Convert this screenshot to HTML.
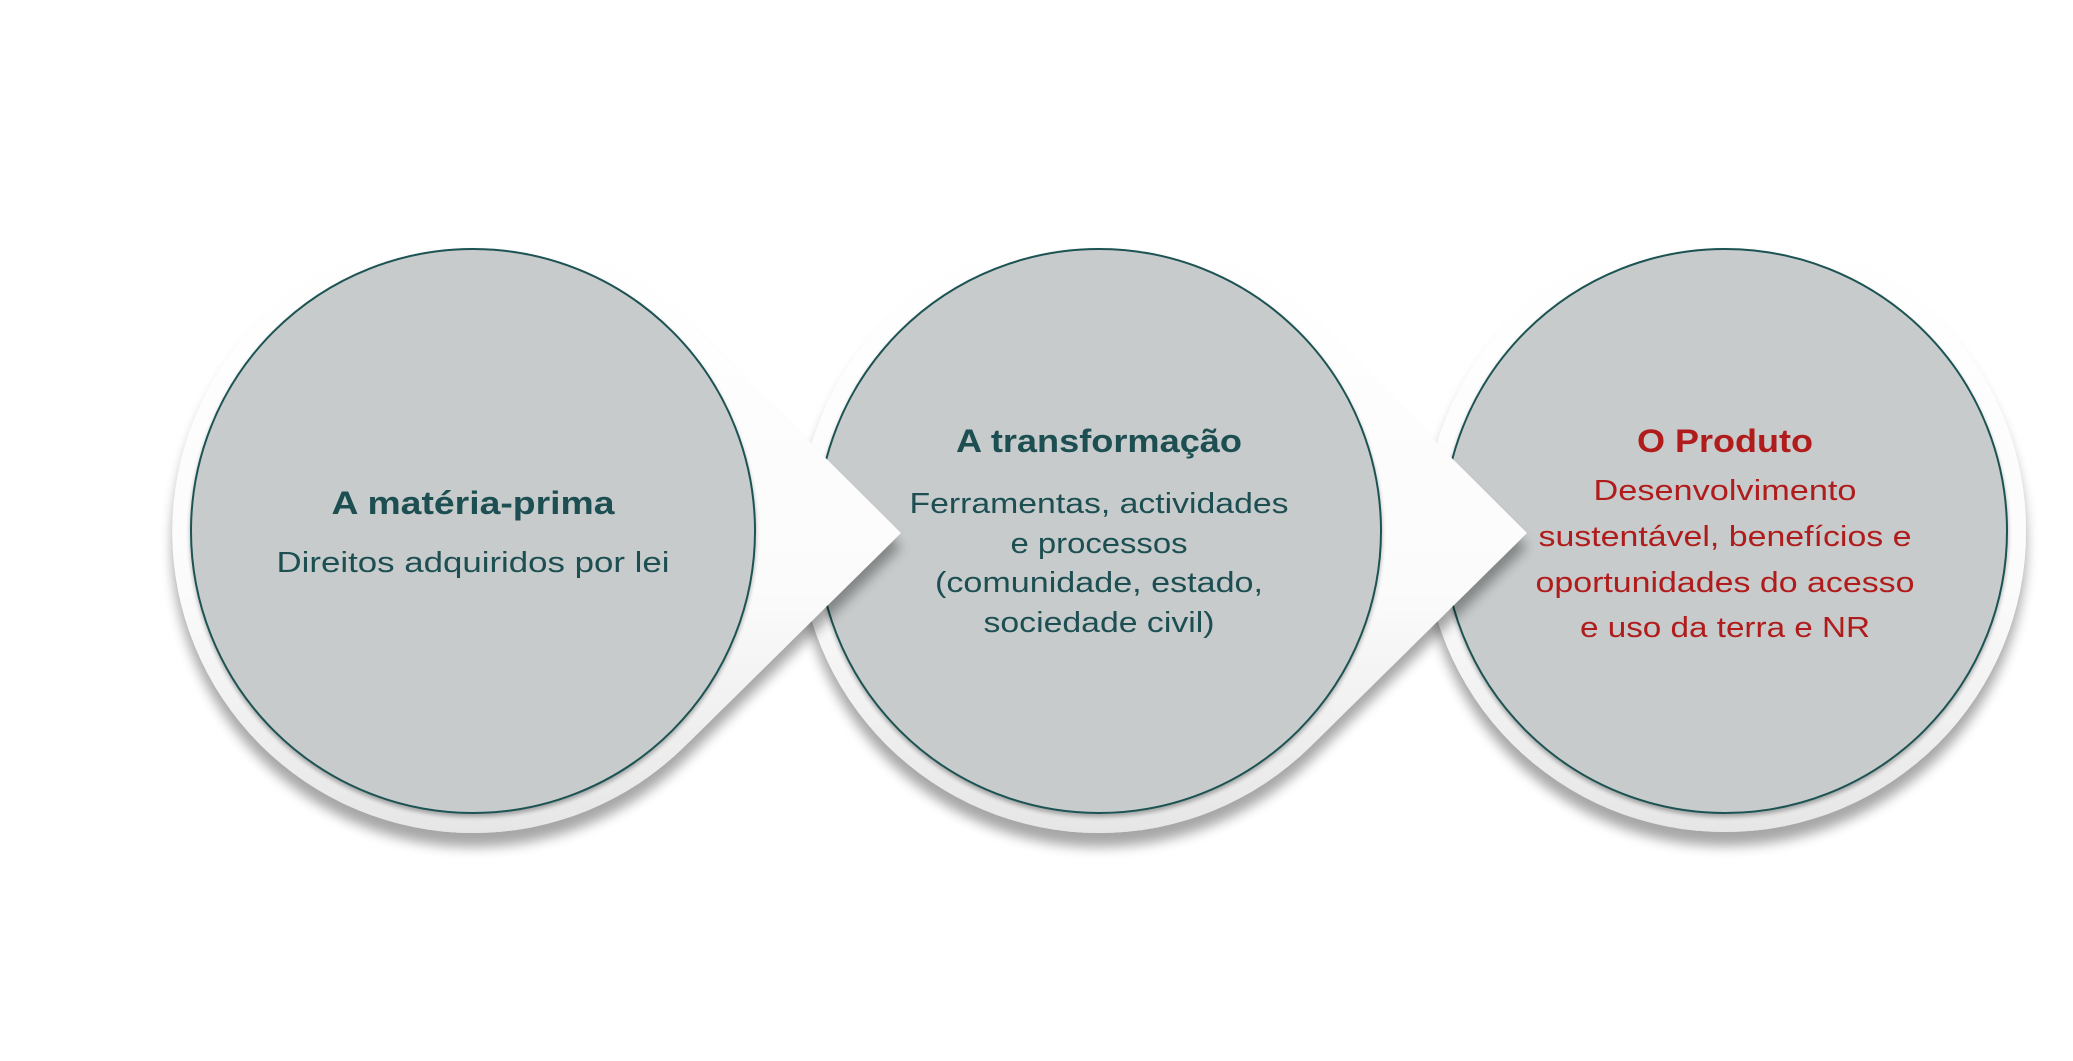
<!DOCTYPE html>
<html><head><meta charset="utf-8"><style>
html,body{margin:0;padding:0;background:#fff;}
svg{display:block;}
text{font-family:"Liberation Sans",sans-serif;}
</style></head><body>
<svg width="2073" height="1061" viewBox="0 0 2073 1061" xmlns="http://www.w3.org/2000/svg">
<defs>
<linearGradient id="hg" x1="0" y1="0" x2="0" y2="1">
<stop offset="0" stop-color="#ffffff"/><stop offset="0.6" stop-color="#fbfbfb"/><stop offset="1" stop-color="#e6e6e6"/>
</linearGradient>
<filter id="sh" x="-20%" y="-20%" width="140%" height="150%">
<feGaussianBlur in="SourceAlpha" stdDeviation="6"/>
<feOffset dy="14" result="b"/>
<feComponentTransfer><feFuncA type="linear" slope="0.35"/></feComponentTransfer>
<feMerge><feMergeNode/><feMergeNode in="SourceGraphic"/></feMerge>
</filter>
<filter id="sh2" x="-20%" y="-20%" width="140%" height="150%">
<feGaussianBlur in="SourceAlpha" stdDeviation="2"/>
<feOffset dy="3"/>
<feComponentTransfer><feFuncA type="linear" slope="0.3"/></feComponentTransfer>
<feMerge><feMergeNode/><feMergeNode in="SourceGraphic"/></feMerge>
</filter>
</defs>

<!-- item 3 -->
<g>
<circle cx="1725" cy="531" r="301" fill="url(#hg)" filter="url(#sh)"/>
<circle cx="1725" cy="531" r="282" fill="#c7cbcb" stroke="#1f5252" stroke-width="2" filter="url(#sh2)"/>
</g>
<!-- item 2 -->
<g>
<path d="M 1311 318 L 1527 533 L 1311 746 A 301 301 0 1 1 1311 318 Z" fill="url(#hg)" filter="url(#sh)"/>
<circle cx="1099" cy="531" r="282" fill="#c7cbcb" stroke="#1f5252" stroke-width="2" filter="url(#sh2)"/>
</g>
<!-- item 1 -->
<g>
<path d="M 685 318 L 901 533 L 685 746 A 301 301 0 1 1 685 318 Z" fill="url(#hg)" filter="url(#sh)"/>
<circle cx="473" cy="531" r="282" fill="#c7cbcb" stroke="#1f5252" stroke-width="2" filter="url(#sh2)"/>
</g>

<g fill="#1d4f52" text-anchor="middle">
<text x="473" y="514" font-size="32" font-weight="bold" textLength="283" lengthAdjust="spacingAndGlyphs">A matéria-prima</text>
<text x="473" y="572" font-size="29" textLength="393" lengthAdjust="spacingAndGlyphs">Direitos adquiridos por lei</text>

<text x="1099" y="452" font-size="32" font-weight="bold" textLength="286" lengthAdjust="spacingAndGlyphs">A transformação</text>
<text x="1099" y="513" font-size="29" textLength="379" lengthAdjust="spacingAndGlyphs">Ferramentas, actividades</text>
<text x="1099" y="553" font-size="29" textLength="177" lengthAdjust="spacingAndGlyphs">e processos</text>
<text x="1099" y="592" font-size="29" textLength="328" lengthAdjust="spacingAndGlyphs">(comunidade, estado,</text>
<text x="1099" y="632" font-size="29" textLength="231" lengthAdjust="spacingAndGlyphs">sociedade civil)</text>
</g>
<g fill="#b01c1c" text-anchor="middle">
<text x="1725" y="452" font-size="32" font-weight="bold" textLength="176" lengthAdjust="spacingAndGlyphs">O Produto</text>
<text x="1725" y="500" font-size="29" textLength="263" lengthAdjust="spacingAndGlyphs">Desenvolvimento</text>
<text x="1725" y="546" font-size="29" textLength="373" lengthAdjust="spacingAndGlyphs">sustentável, benefícios e</text>
<text x="1725" y="592" font-size="29" textLength="379" lengthAdjust="spacingAndGlyphs">oportunidades do acesso</text>
<text x="1725" y="637" font-size="29" textLength="290" lengthAdjust="spacingAndGlyphs">e uso da terra e NR</text>
</g>
</svg>
</body></html>
